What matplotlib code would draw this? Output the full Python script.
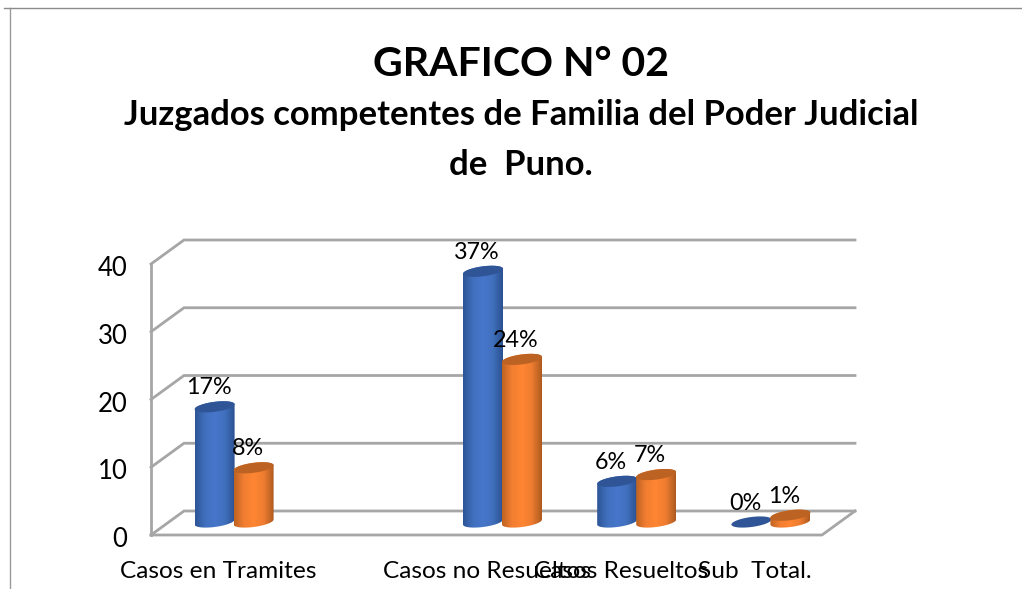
import numpy as np
import matplotlib
matplotlib.use("Agg")
import matplotlib.pyplot as plt
from matplotlib.colors import LinearSegmentedColormap
from matplotlib.lines import Line2D
from matplotlib.patches import Polygon
from matplotlib.transforms import ScaledTranslation

categories = ["Casos en Tramites", "", "Casos no Resueltos", "Casos Resueltos", "Sub  Total."]
series_a = [17, None, 37, 6, 0]
series_b = [8, None, 24, 7, 1]
yticks = [0, 10, 20, 30, 40]
title = "GRAFICO N° 02"
subtitle_1 = "Juzgados competentes de Familia del Poder Judicial"
subtitle_2 = "de  Puno."

W, H = 1022, 589
plt.rcParams["font.family"] = ["Lato", "DejaVu Sans"]
fig = plt.figure(figsize=(W / 100, H / 100), dpi=100, facecolor="white")
L, R, T, B = 151, 822, 264, 535
ax = fig.add_axes([L / W, 1 - B / H, (R - L) / W, (B - T) / H])
ax.set_xlim(-0.5, 4.5)
ax.set_ylim(0, 40)
for s in ax.spines.values():
    s.set_visible(False)
ax.patch.set_visible(False)

px_x = 5 / (R - L)
px_y = 40 / (B - T)
grid_c = "#a6a6a6"
grid_lw = 2.0
wall_dx, wall_dy = 33 * px_x, 24 * px_y
for v in yticks:
    ax.plot([-0.5, -0.5 + wall_dx, 4.5 + wall_dx], [v, v + wall_dy, v + wall_dy],
            color=grid_c, lw=grid_lw, clip_on=False, zorder=1, solid_joinstyle="miter")
ax.plot([-0.5, -0.5], [0, 40], color=grid_c, lw=grid_lw, clip_on=False, zorder=1)
ax.plot([-0.5, 4.5, 4.5 + wall_dx], [0, 0, wall_dy], color=grid_c, lw=grid_lw, clip_on=False, zorder=1)

blue = LinearSegmentedColormap.from_list("b", ["#2d5496", "#4070bd", "#4776cb", "#4070bd", "#2c5190"])
orange = LinearSegmentedColormap.from_list("o", ["#bd6222", "#f27e31", "#ff8633", "#ee7c30", "#ad5a1f"])
top_blue, top_orange = "#2f5597", "#bc6323"
a, b, tilt = 20 * px_x, 5 * px_y, 2.5 * px_y
off_x, off_y = 16 * px_x, 13 * px_y
grad = np.linspace(0, 1, 256).reshape(1, -1)


def cylinder(cx, val, cmap, top_c, z):
    x0 = cx + off_x
    y0 = off_y
    y1 = val + off_y
    t = np.linspace(0, 2 * np.pi, 80)
    if val > 0:
        lo = np.linspace(np.pi, 2 * np.pi, 40)
        hi = np.linspace(0, np.pi, 40)
        xs = np.r_[x0 + a * np.cos(lo), x0 + a * np.cos(hi)]
        ys = np.r_[y0 + b * np.sin(lo) + tilt * np.cos(lo), y1 + b * np.sin(hi) + tilt * np.cos(hi)]
        poly = Polygon(np.c_[xs, ys], closed=True, transform=ax.transData, fc="none", ec="none")
        ax.add_patch(poly)
        im = ax.imshow(grad, cmap=cmap, aspect="auto", zorder=z,
                       extent=[x0 - a, x0 + a, y0 - b - tilt, y1 + b + tilt], origin="lower")
        im.set_clip_path(poly)
    ax.add_patch(Polygon(np.c_[x0 + a * np.cos(t), y1 + b * np.sin(t) + tilt * np.cos(t)],
                         closed=True, fc=top_c, ec="none", zorder=z + 0.1, clip_on=False))
    ax.annotate(f"{val}%", (x0, y1), xytext=(-6 * 0.72, 19 * 0.72), textcoords="offset points",
                ha="center", va="center", fontsize=16.8, color="black", zorder=10,
                annotation_clip=False)


bar_shift = 19.5 * px_x
for i, (va, vb) in enumerate(zip(series_a, series_b)):
    if va is not None:
        cylinder(i - bar_shift, va, blue, top_blue, 3 + i)
    if vb is not None:
        cylinder(i + bar_shift, vb, orange, top_orange, 3.5 + i)

ax.set_xlim(-0.5, 4.5)
ax.set_ylim(0, 40)
ax.set_xticks(range(len(categories)), categories, fontsize=17.6)
ax.set_yticks(yticks, [str(v) for v in yticks], fontsize=18.5)
ax.tick_params(axis="x", length=0, pad=18.5)
ax.tick_params(axis="y", length=0, pad=17)
down = ScaledTranslation(0, -2 / 100, fig.dpi_scale_trans)
for lab in ax.get_yticklabels():
    lab.set_transform(lab.get_transform() + down)

fig.add_artist(Line2D([9.5 / W, 9.5 / W], [0, 1 - 8 / H], color="#9a9a9a", lw=1))
fig.add_artist(Line2D([4 / W, 1], [1 - 8 / H, 1 - 8 / H], color="#8c8c8c", lw=1))

fig.text(521 / W, 1 - 64 / H, title, ha="center", va="center", fontsize=29.5, fontweight="bold")
fig.text(521 / W, 1 - 115 / H, subtitle_1, ha="center", va="center", fontsize=24.9, fontweight="bold")
fig.text(521 / W, 1 - 165 / H, subtitle_2, ha="center", va="center", fontsize=24.9, fontweight="bold")

fig.savefig("out.png", dpi=100, facecolor="white")
